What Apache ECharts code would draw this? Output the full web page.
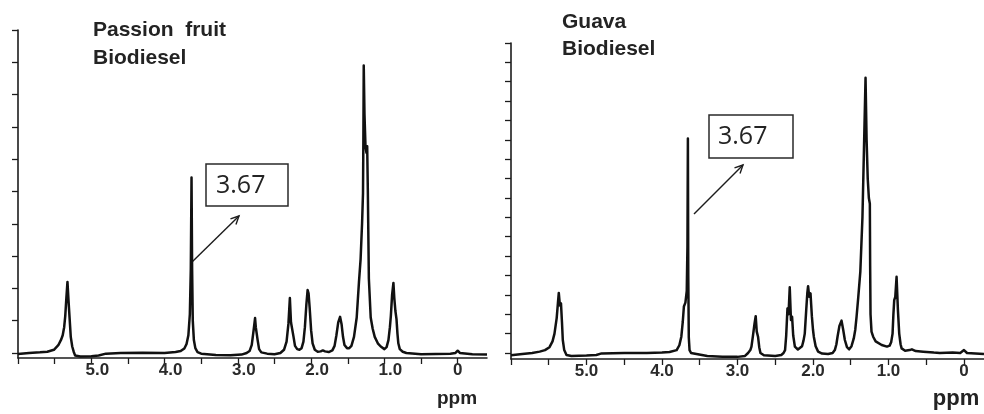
<!DOCTYPE html>
<html><head><meta charset="utf-8">
<script src="https://cdn.jsdelivr.net/npm/echarts@6/dist/echarts.min.js"></script>
<style>html,body{margin:0;padding:0;background:#fff}#c{width:984px;height:414px}</style>
</head><body><div id="c"></div>
<script>
// ---- data (ppm, relative intensity in y-tick units) ----
const passionSpectrum = [
 [6.0,-0.03],[5.85,0.0],[5.7,0.02],[5.6,0.04],[5.51,0.1],[5.45,0.24],[5.41,0.42],[5.39,0.55],[5.37,0.8],[5.355,1.15],[5.34,1.7],[5.325,2.2],[5.31,1.6],[5.295,1.05],[5.28,0.5],[5.26,0.2],[5.24,0.04],[5.22,-0.08],[5.15,-0.11],[5.0,-0.1],[4.9,-0.08],[4.8,-0.02],[4.6,0.0],[4.3,0.01],[4.0,0.0],[3.85,0.03],[3.78,0.06],[3.73,0.14],[3.7,0.28],[3.675,0.55],[3.655,1.2],[3.642,2.6],[3.632,5.43],[3.624,2.6],[3.615,1.0],[3.6,0.4],[3.58,0.15],[3.55,0.03],[3.5,-0.02],[3.3,-0.06],[3.1,-0.07],[2.95,-0.05],[2.88,0.0],[2.84,0.06],[2.81,0.25],[2.785,0.7],[2.765,1.08],[2.755,0.8],[2.745,0.78],[2.73,0.4],[2.71,0.12],[2.68,0.02],[2.6,-0.02],[2.5,-0.04],[2.42,0.0],[2.37,0.1],[2.335,0.35],[2.31,0.9],[2.29,1.7],[2.275,0.95],[2.258,0.96],[2.24,0.5],[2.22,0.22],[2.19,0.12],[2.16,0.1],[2.13,0.15],[2.105,0.35],[2.085,0.8],[2.065,1.5],[2.048,1.95],[2.035,1.85],[2.02,1.4],[2.0,0.7],[1.98,0.3],[1.95,0.1],[1.91,0.04],[1.87,0.05],[1.84,0.08],[1.81,0.05],[1.76,0.03],[1.71,0.08],[1.68,0.22],[1.655,0.55],[1.63,0.95],[1.605,1.12],[1.585,0.9],[1.565,0.5],[1.545,0.25],[1.51,0.15],[1.48,0.15],[1.45,0.22],[1.415,0.5],[1.378,1.1],[1.347,2.2],[1.325,2.9],[1.305,4.0],[1.292,4.95],[1.287,6.6],[1.282,8.9],[1.272,7.4],[1.258,6.4],[1.245,6.2],[1.235,6.4],[1.226,5.0],[1.212,2.3],[1.187,1.1],[1.16,0.75],[1.132,0.5],[1.09,0.3],[1.05,0.2],[1.0,0.12],[0.97,0.18],[0.945,0.4],[0.925,0.8],[0.912,1.15],[0.895,1.8],[0.877,2.17],[0.865,1.7],[0.85,1.3],[0.835,1.05],[0.822,0.6],[0.81,0.3],[0.79,0.12],[0.75,0.04],[0.7,0.0],[0.5,-0.04],[0.3,-0.03],[0.1,-0.02],[0.03,0.0],[0.0,0.07],[-0.03,0.0],[-0.2,-0.04],[-0.4,-0.05]
];
const guavaSpectrum = [
 [6.0,-0.12],[5.85,-0.05],[5.72,0.0],[5.62,0.07],[5.55,0.15],[5.49,0.3],[5.45,0.6],[5.424,1.0],[5.395,1.8],[5.378,2.6],[5.367,3.1],[5.352,2.45],[5.338,2.56],[5.325,1.6],[5.314,0.67],[5.295,0.15],[5.265,-0.1],[5.2,-0.15],[5.0,-0.13],[4.87,-0.1],[4.8,-0.02],[4.5,0.0],[4.2,0.0],[4.0,0.02],[3.9,0.05],[3.806,0.15],[3.77,0.4],[3.744,0.84],[3.725,1.6],[3.71,2.4],[3.69,2.6],[3.672,3.2],[3.663,5.5],[3.657,11.07],[3.652,4.0],[3.645,0.8],[3.635,0.15],[3.615,0.0],[3.59,-0.1],[3.4,-0.15],[3.2,-0.2],[3.0,-0.2],[2.9,-0.15],[2.86,0.0],[2.83,0.15],[2.815,0.33],[2.795,0.9],[2.775,1.5],[2.759,1.9],[2.745,1.1],[2.728,0.84],[2.712,0.3],[2.696,0.0],[2.65,-0.12],[2.5,-0.15],[2.42,-0.1],[2.39,0.0],[2.37,0.15],[2.355,0.9],[2.338,2.3],[2.324,2.0],[2.308,3.39],[2.292,1.7],[2.277,1.87],[2.262,0.9],[2.24,0.33],[2.2,0.18],[2.175,0.15],[2.145,0.35],[2.125,0.65],[2.109,1.0],[2.09,2.2],[2.075,3.1],[2.065,3.45],[2.05,2.9],[2.033,3.08],[2.015,1.9],[2.0,1.2],[1.989,0.84],[1.965,0.35],[1.932,0.07],[1.88,-0.03],[1.8,-0.05],[1.74,0.0],[1.711,0.15],[1.69,0.45],[1.675,0.84],[1.65,1.4],[1.622,1.67],[1.6,1.2],[1.578,0.67],[1.55,0.3],[1.521,0.19],[1.49,0.35],[1.46,0.75],[1.44,1.2],[1.423,1.87],[1.4,2.9],[1.373,4.2],[1.345,7.0],[1.325,10.5],[1.304,14.2],[1.29,11.0],[1.275,9.0],[1.26,8.0],[1.247,7.7],[1.243,4.5],[1.238,2.0],[1.225,1.1],[1.203,0.84],[1.17,0.6],[1.09,0.41],[1.02,0.33],[0.985,0.38],[0.965,0.55],[0.946,1.0],[0.935,2.0],[0.924,2.73],[0.91,2.9],[0.893,3.93],[0.875,2.2],[0.858,1.0],[0.84,0.45],[0.826,0.24],[0.78,0.12],[0.72,0.15],[0.69,0.19],[0.64,0.1],[0.54,0.07],[0.4,0.02],[0.32,0.0],[0.15,0.02],[0.05,0.0],[0.0,0.15],[-0.04,0.0],[-0.15,-0.02],[-0.265,-0.05]
];
const xTickValues = [6.0,5.5,5.0,4.5,4.0,3.5,3.0,2.5,2.0,1.5,1.0,0.5,0];
const xLabelValues = [5,4,3,2,1,0];
const passionYTicks = [0,1,2,3,4,5,6,7,8,9,10];
const guavaYTicks = [0,1,2,3,4,5,6,7,8,9,10,11,12,13,14,15,16];
const passionTitle = ['Passion  fruit','Biodiesel'];
const guavaTitle = ['Guava','Biodiesel'];
const peakLabel = '3.67';
const axisUnit = 'ppm';

// ---- chart ----
const chart = echarts.init(document.getElementById('c'));
const INK = '#1c1c1c';
const FONT = '"Liberation Sans", Arial, sans-serif';

function xAxisOpt(gi, min, shiftLabels) {
  return {
    gridIndex: gi, type: 'value', inverse: true, min: min, max: 6.0, position: 'bottom',
    axisLine: { show: true, onZero: false, lineStyle: { color: INK, width: 1.5 } },
    axisTick: { show: true, customValues: xTickValues, length: 6, lineStyle: { color: INK, width: 1.3 } },
    splitLine: { show: false },
    axisLabel: {
      customValues: xLabelValues, margin: 4, color: '#2a2a2a',
      fontFamily: FONT, fontWeight: 'bold', fontSize: 17,
      formatter: v => {
        const t = v === 0 ? '0' : v.toFixed(1);
        return (shiftLabels && v !== 0) ? '{s|' + t + '}' : '{n|' + t + '}';
      },
      rich: {
        s: { padding: [0,0,0,12], fontFamily: FONT, fontWeight: 'bold', fontSize: 17, color: '#2a2a2a' },
        n: { fontFamily: FONT, fontWeight: 'bold', fontSize: 17, color: '#2a2a2a' }
      }
    }
  };
}
function yAxisOpt(gi, min, ticks) {
  return {
    gridIndex: gi, type: 'value', min: min, max: ticks[ticks.length - 1], position: 'left',
    axisLine: { show: true, onZero: false, lineStyle: { color: INK, width: 1.6 } },
    axisTick: { show: true, customValues: ticks, length: 6, lineStyle: { color: INK, width: 1.3 } },
    axisLabel: { show: false },
    splitLine: { show: false }
  };
}

function arrow(x1, y1, x2, y2) {
  const a = Math.atan2(y2 - y1, x2 - x1), L = 9, w = 0.45;
  return [
    { type: 'line', shape: { x1, y1, x2, y2 }, style: { stroke: INK, lineWidth: 1.4 } },
    { type: 'polyline', shape: { points: [
      [x2 - L * Math.cos(a - w), y2 - L * Math.sin(a - w)], [x2, y2],
      [x2 - L * Math.cos(a + w), y2 - L * Math.sin(a + w)] ] },
      style: { stroke: INK, lineWidth: 1.4, fill: null } }
  ];
}
function txt(text, x, y, font, align) {
  return { type: 'text', style: { text, x, y, font, fill: '#232323',
    align: align || 'left', textAlign: align || 'left', verticalAlign: 'middle', textVerticalAlign: 'middle' } };
}

const titleFont = 'bold 21px ' + FONT;
const boxFont = '25px "Open Sans", "Liberation Sans", sans-serif';

chart.setOption({
  animation: false,
  backgroundColor: '#fff',
  grid: [
    { left: 18, top: 30, width: 469, height: 328 },
    { left: 511, top: 43, width: 473, height: 316 }
  ],
  xAxis: [ xAxisOpt(0, -0.4, true), xAxisOpt(1, -0.265, false) ],
  yAxis: [ yAxisOpt(0, -0.155, passionYTicks), yAxisOpt(1, -0.31, guavaYTicks) ],
  series: [
    { type: 'line', xAxisIndex: 0, yAxisIndex: 0, data: passionSpectrum, showSymbol: false,
      lineStyle: { color: '#111', width: 2.5, join: 'round' } },
    { type: 'line', xAxisIndex: 1, yAxisIndex: 1, data: guavaSpectrum, showSymbol: false,
      lineStyle: { color: '#111', width: 2.5, join: 'round' } }
  ],
  graphic: [
    txt(passionTitle[0], 93, 30, titleFont),
    txt(passionTitle[1], 93, 58, titleFont),
    txt(guavaTitle[0], 562, 22, titleFont),
    txt(guavaTitle[1], 562, 49, titleFont),
    { type: 'rect', shape: { x: 206, y: 164, width: 82, height: 42 }, style: { fill: '#fff', stroke: '#2a2a2a', lineWidth: 1.5 } },
    txt(peakLabel, 216, 186, boxFont),
    { type: 'rect', shape: { x: 709, y: 115, width: 84, height: 43 }, style: { fill: '#fff', stroke: '#2a2a2a', lineWidth: 1.5 } },
    txt(peakLabel, 718, 137, boxFont),
    ...arrow(192, 262, 239, 216),
    ...arrow(694, 214, 743, 165),
    txt(axisUnit, 457, 399, 'bold 19px ' + FONT, 'center'),
    txt(axisUnit, 956, 399, 'bold 22px ' + FONT, 'center')
  ]
});
</script>
</body></html>
